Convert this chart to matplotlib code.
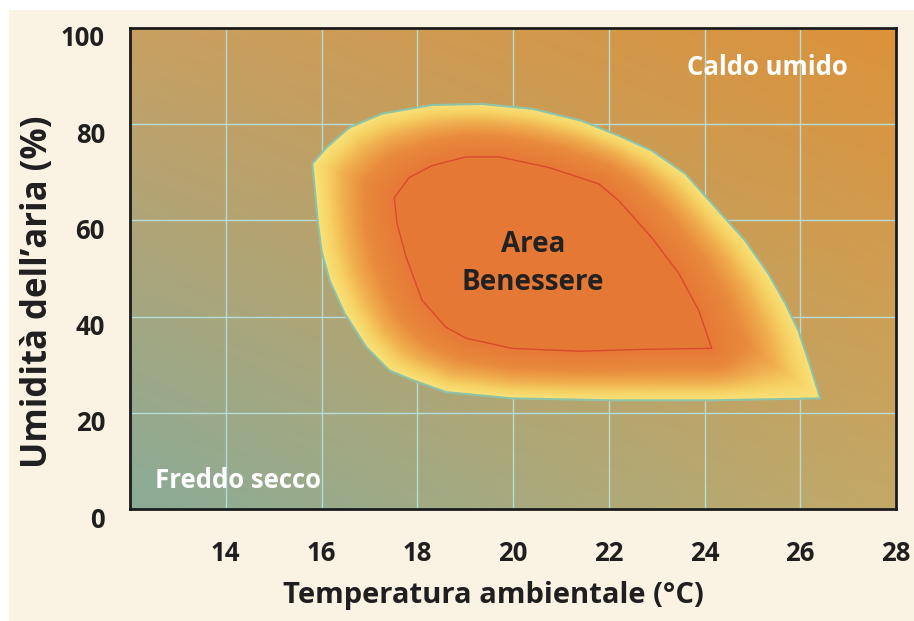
import numpy as np
import matplotlib
matplotlib.use("Agg")
import matplotlib.pyplot as plt
from matplotlib.patches import Polygon, Rectangle
from matplotlib.colors import LinearSegmentedColormap
from matplotlib import transforms

# --- data ---
x_ticks = [14, 16, 18, 20, 22, 24, 26, 28]
y_ticks = [0, 20, 40, 60, 80, 100]

# outer comfort boundary (temperature, humidity)
outer_t = [15.81, 16.10, 16.58, 17.27, 18.31, 19.35, 20.40, 21.44, 22.21, 22.90, 23.60,
           24.29, 24.85, 25.33, 25.69, 25.96, 26.17, 26.42, 24.15, 22.06, 19.98, 18.60,
           17.90, 17.42, 16.94, 16.48, 16.17, 16.00, 15.92]
outer_h = [71.8, 75.1, 79.3, 82.2, 84.0, 84.2, 83.2, 80.7, 77.6, 74.5, 69.7,
           62.0, 55.8, 49.0, 42.7, 37.1, 30.9, 23.0, 22.6, 22.6, 23.0, 24.3,
           26.8, 28.8, 33.6, 40.7, 47.5, 53.7, 60.0]

# inner "area benessere" boundary
inner_t = [17.52, 17.83, 18.31, 19.02, 19.71, 20.75, 21.79, 22.21, 22.90, 23.46, 23.88,
           24.15, 22.77, 21.38, 19.98, 19.02, 18.60, 18.10, 17.77, 17.58]
inner_h = [64.7, 68.9, 71.4, 73.2, 73.2, 71.0, 67.6, 64.1, 56.4, 49.0, 41.3,
           33.4, 33.2, 32.8, 33.4, 35.5, 37.8, 43.4, 52.3, 59.3]

plt.rcParams["font.family"] = ["Open Sans", "DejaVu Sans"]
plt.rcParams["font.weight"] = "bold"

W, H = 914, 621
fig = plt.figure(figsize=(W / 100, H / 100), dpi=100)
fig.patch.set_facecolor("white")
fig.patches.append(Rectangle((9 / W, 0), 1, 1 - 10 / H, transform=fig.transFigure,
                             facecolor="#faf3e3", edgecolor="none", zorder=-10))

ax = fig.add_axes([130 / W, 1 - 509 / H, (896 - 130) / W, (509 - 28) / H])
ax.set_xlim(12, 28)
ax.set_ylim(0, 100)

# background: blend between corner colours
tl = np.array([200, 160, 98]) / 255
tr = np.array([220, 146, 58]) / 255
bl = np.array([138, 172, 152]) / 255
br = np.array([196, 168, 102]) / 255
u = np.linspace(0, 1, 200)[None, :, None]
v = np.linspace(0, 1, 150)[:, None, None]
bg = (1 - v) * ((1 - u) * bl + u * br) + v * ((1 - u) * tl + u * tr)
ax.imshow(bg, extent=(12, 28, 0, 100), origin="lower", aspect="auto", zorder=0,
          interpolation="bilinear")

ax.set_xticks(x_ticks)
ax.set_yticks(y_ticks)
ax.set_axisbelow(True)
ax.grid(True, color="#b4dcd8", linewidth=1.0)

# blob gradient: orange near the inner shape, yellow at the outer edge
sx, sy = 48.0, 4.82  # pixels per data unit


def seg_dist(px, py, xs, ys):
    x0 = np.asarray(xs) * sx
    y0 = np.asarray(ys) * sy
    x1 = np.roll(x0, -1)
    y1 = np.roll(y0, -1)
    d = np.full(px.shape, np.inf)
    for a, b, c, e in zip(x0, y0, x1, y1):
        dx, dy = c - a, e - b
        L = dx * dx + dy * dy
        t = np.clip(((px - a) * dx + (py - b) * dy) / L, 0, 1)
        d = np.minimum(d, np.hypot(px - (a + t * dx), py - (b + t * dy)))
    return d


gx = np.linspace(15.5, 26.8, 560)
gy = np.linspace(20, 87, 330)
GX, GY = np.meshgrid(gx, gy)
d_in = seg_dist(GX * sx, GY * sy, inner_t, inner_h)
d_out = seg_dist(GX * sx, GY * sy, outer_t, outer_h)
inner_poly = Polygon(np.column_stack([inner_t, inner_h]), closed=True)
inside = inner_poly.get_path().contains_points(np.column_stack([GX.ravel(), GY.ravel()]))
frac = d_in / (d_in + d_out)
frac[inside.reshape(GX.shape)] = 0
cmap = LinearSegmentedColormap.from_list("blob", [
    (0.0, "#e67836"), (0.4, "#e98a3c"), (0.65, "#f0ad4e"), (0.85, "#f6d264"), (1.0, "#f9e27a")])
img = ax.imshow(frac, extent=(gx[0], gx[-1], gy[0], gy[-1]), origin="lower", aspect="auto",
                cmap=cmap, vmin=0, vmax=1, zorder=2, interpolation="bilinear")
outer_patch = Polygon(np.column_stack([outer_t, outer_h]), closed=True, facecolor="none",
                      edgecolor="#8fc3a8", linewidth=1.5, zorder=3, joinstyle="round")
ax.add_patch(outer_patch)
img.set_clip_path(outer_patch)

ax.add_patch(Polygon(np.column_stack([inner_t, inner_h]), closed=True, facecolor="#e67836",
                     edgecolor="#d84a2c", linewidth=1.0, zorder=3, joinstyle="round"))

for s in ax.spines.values():
    s.set_color("#1c1c1c")
    s.set_linewidth(2)
    s.set_zorder(5)

ax.tick_params(length=0, labelsize=18.5, colors="#1f1f1f")
ax.tick_params(axis="x", pad=22)
ax.tick_params(axis="y", pad=18)
offset = transforms.ScaledTranslation(0, -8 / 100, fig.dpi_scale_trans)
for lab in ax.get_yticklabels():
    lab.set_transform(lab.get_transform() + offset)
ax.set_xticklabels([str(t) for t in x_ticks])
ax.set_yticklabels([str(t) for t in y_ticks])

fig.text(493 / W, 1 - 596 / H, "Temperatura ambientale (°C)", ha="center", va="center",
         fontsize=21, fontweight="bold", color="#1f1f1f")
fig.text(38 / W, 1 - 292 / H, "Umidità dell’aria (%)", ha="center", va="center",
         rotation=90, fontsize=25, fontweight="bold", color="#1f1f1f")

ax.text(20.42, 51.0, "Area\nBenessere", ha="center", va="center", fontsize=20,
        fontweight="bold", color="#222222", linespacing=1.4, zorder=6)
ax.text(23.63, 91.7, "Caldo umido", ha="left", va="center", fontsize=18.5,
        fontweight="bold", color="white", zorder=6)
ax.text(12.52, 6.0, "Freddo secco", ha="left", va="center", fontsize=18.5,
        fontweight="bold", color="white", zorder=6)

fig.savefig("out.png", dpi=100)
